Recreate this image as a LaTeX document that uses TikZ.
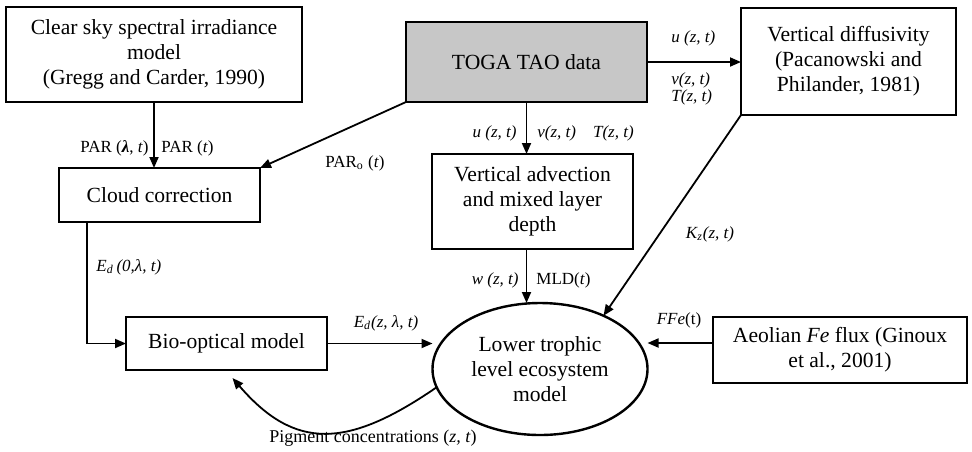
\documentclass[tikz,border=0pt]{standalone}
\usepackage{fontspec}
\setmainfont{Liberation Serif}
\usetikzlibrary{arrows.meta,shapes.geometric,calc}

\begin{document}
\begin{tikzpicture}[x=0.5pt,y=-0.5pt,
  box/.style={draw,line width=1.2pt,inner sep=2pt,outer sep=0pt,align=center,font=\fontsize{10.8}{12.5}\selectfont},
  arr/.style={-{Triangle[length=5.5pt,width=4.5pt]},line width=0.9pt},
  lbl/.style={inner sep=0pt,font=\fontsize{8.5}{10}\selectfont}
]
  \useasboundingbox (0,0) rectangle (972,451);

  % Clear sky model
  \node[box,minimum width=148pt,minimum height=47.5pt] (sky) at (154,54.5) {Clear sky spectral irradiance\\model\\(Gregg and Carder, 1990)};

  % TOGA TAO
  \node[box,fill=black!22,minimum width=120.5pt,minimum height=40pt] (toga) at (526.5,62) {TOGA TAO data};

  % Vertical diffusivity
  \node[box,minimum width=107.5pt,minimum height=53.5pt] (diff) at (848.5,61.5) {Vertical diffusivity\\(Pacanowski and\\Philander, 1981)};

  % Cloud correction
  \node[box,minimum width=100.5pt,minimum height=27pt] (cloud) at (159.5,195) {Cloud correction};

  % Vertical advection
  \node[box,minimum width=100.5pt,minimum height=47.5pt] (adv) at (532.5,201.5) {Vertical advection\\and mixed layer\\depth};

  % Bio-optical model
  \node[box,minimum width=100.5pt,minimum height=26.5pt] (bio) at (226.5,343.5) {Bio-optical model};

  % Ecosystem model
  \node[box,ellipse,minimum width=107.5pt,minimum height=66pt] (eco) at (540,369) {Lower trophic\\level ecosystem\\model};

  % Aeolian Fe flux
  \node[box,minimum width=127pt,minimum height=33pt] (fe) at (840,350) {Aeolian \textit{Fe} flux (Ginoux\\et al., 2001)};

  % Arrows
  \draw[arr] (sky.south) -- (sky.south |- cloud.north);
  \draw[arr] (toga.south west) -- (cloud.north east);
  \draw[arr] (toga.east) -- (toga.east -| diff.west);
  \draw[arr] (toga.south) -- (toga.south |- adv.north);
  \draw[arr] (toga.south |- adv.south) -- (toga.south |- eco.north);
  \draw[arr] (diff.south west) -- (eco.40);
  \draw[arr] ([xshift=14pt]cloud.south west) |- (bio.west);
  \draw[arr] (bio.east) -- (bio.east -| eco.west);
  \draw[arr] ([yshift=3.5pt]fe.west) -- ([yshift=3.5pt]fe.west -| eco.east);
  \draw[arr] (eco.190) .. controls +(-90,62) and +(62,72) .. ([shift={(3pt,-4pt)}]bio.south);

  % Labels
  \node[lbl,anchor=east] (parl) at (149,148) {PAR (\textit{\textbf{λ}}, \textit{t})};
  \node[lbl,anchor=west] (part) at (161,148) {PAR (\textit{t})};
  \node[lbl] (paro) at (355,163) {PAR\textsubscript{o} (\textit{t})};
  \node[lbl,anchor=west] (ud) at (671,38) {\textit{u (z, t)}};
  \node[lbl,anchor=west,align=left,font=\fontsize{8.5}{8.5}\selectfont] (vtd) at (671,88.5) {\textit{v(z, t)}\\\textit{T(z, t)}};
  \node[lbl,anchor=east] (ua) at (517,133) {\textit{u (z, t)}};
  \node[lbl,anchor=west] (vta) at (537,133) {\textit{v(z, t)}\quad\textit{T(z, t)}};
  \node[lbl] (kz) at (710,234) {\textit{K\textsubscript{z}(z, t)}};
  \node[lbl,anchor=east] (wz) at (519,280) {\textit{w (z, t)}};
  \node[lbl,anchor=west] (mld) at (536,280) {MLD(\textit{t})};
  \node[lbl,anchor=west] (edo) at (96,267) {\textit{E\textsubscript{d}\,(0,λ, t)}};
  \node[lbl] (edz) at (386,323) {\textit{E\textsubscript{d}(z, λ, t)}};
  \node[lbl] (ffe) at (679,320) {\textit{FFe}(t)};
  \node[lbl,font=\fontsize{9}{10}\selectfont] (pig) at (373,438) {Pigment concentrations (\textit{z, t})};
\end{tikzpicture}
\end{document}
